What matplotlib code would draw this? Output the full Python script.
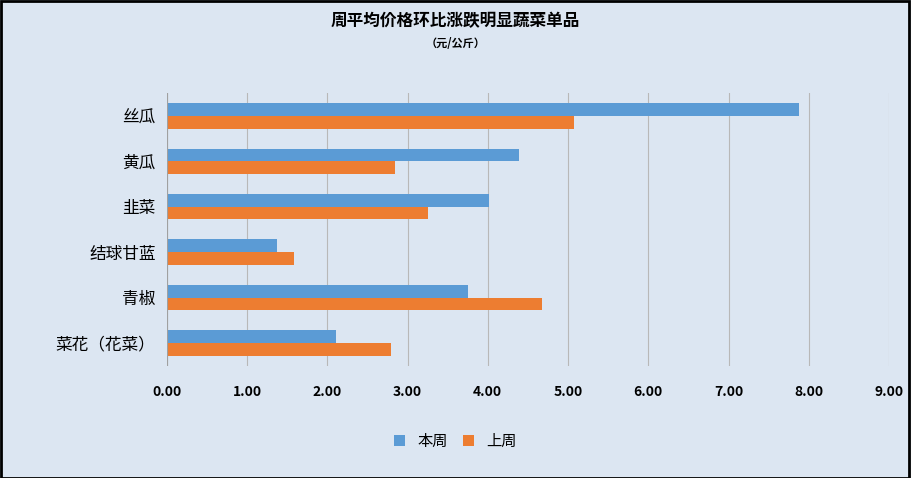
import matplotlib
matplotlib.use("Agg")
import matplotlib.pyplot as plt
import numpy as np

plt.rcParams["font.family"] = ["Noto Sans CJK SC", "Noto Sans CJK JP", "Noto Sans CJK TC",
                               "Noto Sans CJK KR", "DejaVu Sans"]

categories = ["丝瓜", "黄瓜", "韭菜", "结球甘蓝", "青椒", "菜花（花菜）"]
this_week = [7.88, 4.39, 4.02, 1.38, 3.75, 2.11]
last_week = [5.07, 2.85, 3.26, 1.58, 4.68, 2.79]
xticks = np.arange(0, 10)

bg = "#DCE6F2"
fig = plt.figure(figsize=(9.11, 4.78), dpi=100, facecolor=bg)
ax = fig.add_axes([0.183, 0.235, 0.793, 0.57], facecolor=bg)

y = np.arange(len(categories))
h = 0.28
ax.barh(y - h / 2, this_week, height=h, color="#5B9BD5", label="本周")
ax.barh(y + h / 2, last_week, height=h, color="#ED7D31", label="上周")

ax.set_xlim(0, 9)
ax.set_ylim(len(categories) - 0.5, -0.5)
ax.set_xticks(xticks)
ax.set_xticklabels(["%.2f" % v for v in xticks], fontsize=10, fontweight="bold")
ax.set_yticks(y)
ax.set_yticklabels(categories, fontsize=12)
ax.tick_params(length=0, pad=8)
ax.tick_params(axis="x", pad=14)
ax.grid(axis="x", color="#B8B8B8", linewidth=0.8)
ax.set_axisbelow(True)
for s in ax.spines.values():
    s.set_visible(False)
ax.axvline(0, color="#A0A0A0", linewidth=0.8)

fig.text(0.5, 0.955, "周平均价格环比涨跌明显蔬菜单品", ha="center", va="center",
         fontsize=12, fontweight="bold")
fig.text(0.5, 0.91, "（元/公斤）", ha="center", va="center", fontsize=8, fontweight="bold")

fig.legend(loc="lower center", bbox_to_anchor=(0.5, 0.03), ncol=2, frameon=False,
           fontsize=11, handlelength=0.7, handleheight=0.7, columnspacing=1.0)

fig.patches.append(plt.Rectangle((0.001, 0.001), 0.997, 0.996, transform=fig.transFigure,
                                 fill=False, edgecolor="black", linewidth=2))
fig.savefig("out.png", dpi=100, facecolor=bg)
